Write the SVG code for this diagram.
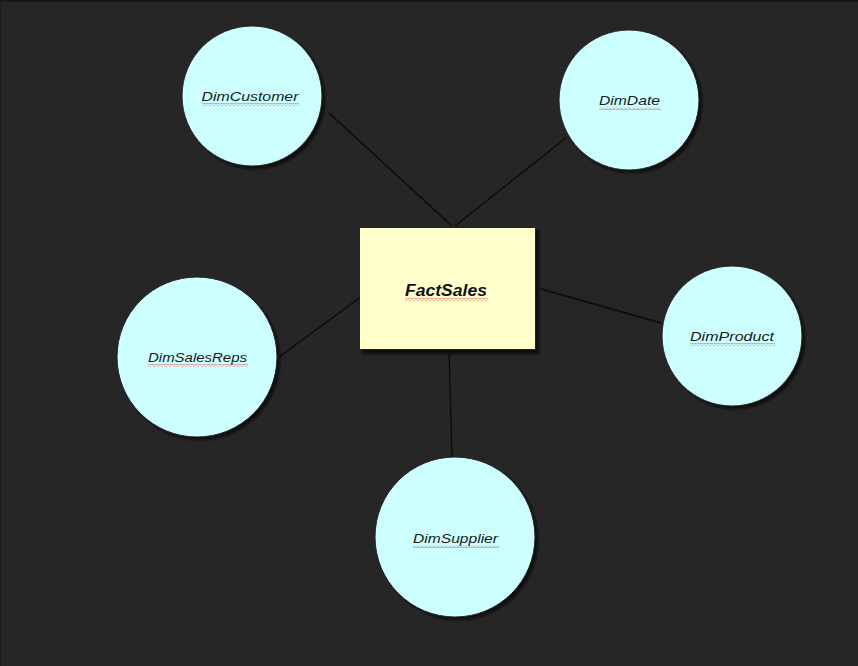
<svg xmlns="http://www.w3.org/2000/svg" width="858" height="666" viewBox="0 0 858 666">
<style>
.dim{fill:#ccffff;stroke:#222;stroke-width:1}
.shadow{fill:#0d0d0d}
.lbl{font-family:"Liberation Sans",Arial,sans-serif;font-style:italic;font-size:13px;fill:#1a1a1a;text-anchor:middle}
.fact{font-family:"Liberation Sans",Arial,sans-serif;font-style:italic;font-weight:bold;font-size:16px;fill:#111;text-anchor:middle}
.conn line{stroke:#0a0a0a;stroke-width:1.3}
</style>
<defs>
<pattern id="squig" x="0" y="0" width="4" height="3" patternUnits="userSpaceOnUse">
<polyline points="0,2.5 2,0.5 4,2.5" fill="none" stroke="#e84a4a" stroke-width="0.9"/>
</pattern>
<filter id="blur" x="-10%" y="-10%" width="120%" height="120%"><feGaussianBlur stdDeviation="1"/></filter>
</defs>
<rect x="0" y="0" width="858" height="666" fill="#262626"/>
<rect x="0" y="0" width="858" height="2" fill="#151a20"/>
<rect x="0" y="0" width="1" height="666" fill="#1a1d22"/>
<g id="connectors" class="conn">
<line x1="329" y1="113" x2="452" y2="226"/>
<line x1="567" y1="137" x2="455" y2="226"/>
<line x1="279" y1="357" x2="362" y2="296"/>
<line x1="541" y1="289" x2="661" y2="323"/>
<line x1="449" y1="351" x2="452" y2="457"/>
</g>
<g id="DimCustomer">
<circle class="shadow" cx="255" cy="99" r="70" filter="url(#blur)"/>
<circle class="dim" cx="252" cy="96" r="70"/>
<text class="lbl" x="250" y="101" textLength="97" lengthAdjust="spacingAndGlyphs">DimCustomer</text>
<rect x="202" y="103" width="97" height="3" fill="url(#squig)"/>
</g>
<g id="DimDate">
<circle class="shadow" cx="632" cy="103" r="70" filter="url(#blur)"/>
<circle class="dim" cx="629" cy="100" r="70"/>
<text class="lbl" x="629.5" y="105" textLength="61" lengthAdjust="spacingAndGlyphs">DimDate</text>
<rect x="599" y="107" width="62" height="3" fill="url(#squig)"/>
</g>
<g id="DimSalesReps">
<circle class="shadow" cx="200" cy="360" r="80" filter="url(#blur)"/>
<circle class="dim" cx="197" cy="357" r="80"/>
<text class="lbl" x="197.5" y="362" textLength="99" lengthAdjust="spacingAndGlyphs">DimSalesReps</text>
<rect x="148" y="364" width="100" height="3" fill="url(#squig)"/>
</g>
<g id="DimProduct">
<circle class="shadow" cx="735" cy="339" r="70" filter="url(#blur)"/>
<circle class="dim" cx="732" cy="336" r="70"/>
<text class="lbl" x="732" y="341" textLength="84" lengthAdjust="spacingAndGlyphs">DimProduct</text>
<rect x="690" y="343" width="85" height="3" fill="url(#squig)"/>
</g>
<g id="DimSupplier">
<circle class="shadow" cx="458" cy="540" r="80" filter="url(#blur)"/>
<circle class="dim" cx="455" cy="537" r="80"/>
<text class="lbl" x="455.5" y="543" textLength="85" lengthAdjust="spacingAndGlyphs">DimSupplier</text>
<rect x="413" y="545" width="86" height="3" fill="url(#squig)"/>
</g>
<g id="FactSales">
<rect class="shadow" x="362" y="230" width="177" height="124" filter="url(#blur)"/>
<rect x="359.5" y="227.5" width="176" height="122" fill="#ffffcc" stroke="#222" stroke-width="1"/>
<text class="fact" x="446" y="296" textLength="82" lengthAdjust="spacingAndGlyphs">FactSales</text>
<rect x="405" y="298" width="83" height="3" fill="url(#squig)"/>
</g>
</svg>
